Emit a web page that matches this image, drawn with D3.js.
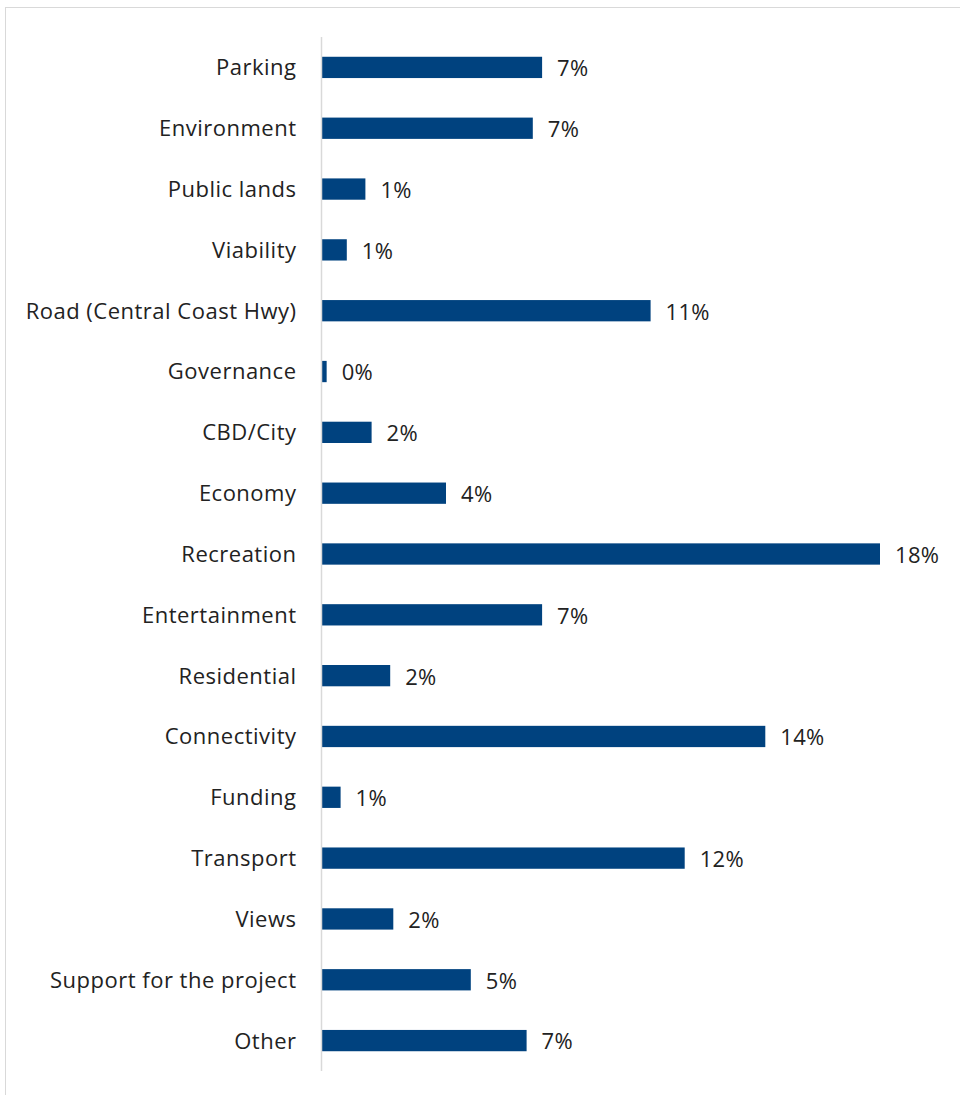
<!DOCTYPE html>
<html><head><meta charset="utf-8">
<script src="https://cdn.jsdelivr.net/npm/d3@7"></script>
<style>
html,body{margin:0;padding:0;background:#fff;}
svg{display:block;}
text{font-family:"Open Sans","Noto Sans",sans-serif;}
</style></head>
<body>
<svg id="chart" width="960" height="1095"></svg>
<script>
const categories = ["Parking","Environment","Public lands","Viability","Road (Central Coast Hwy)","Governance","CBD/City","Economy","Recreation","Entertainment","Residential","Connectivity","Funding","Transport","Views","Support for the project","Other"];
const values = [7.1, 6.8, 1.4, 0.8, 10.6, 0.15, 1.6, 4.0, 18.0, 7.1, 2.2, 14.3, 0.6, 11.7, 2.3, 4.8, 6.6];
const valueLabels = ["7%","7%","1%","1%","11%","0%","2%","4%","18%","7%","2%","14%","1%","12%","2%","5%","7%"];

(function(){
const svg = d3.select("#chart");
const W = 960, H = 1095;
const mLeft = 322, mTop = 37, mBottom = 1071;

svg.append("rect").attr("x",5.5).attr("y",7.5).attr("width",W).attr("height",H)
  .attr("fill","none").attr("stroke","#d9d9d9").attr("stroke-width",1);

const x = d3.scaleLinear().domain([0,18]).range([mLeft, 880]);
const y = d3.scaleBand().domain(categories).range([mTop,mBottom]).paddingInner(0.65).paddingOuter(0.325);

const data = categories.map((c,i)=>({c, v:values[i], l:valueLabels[i]}));

svg.selectAll("rect.bar").data(data).join("rect").attr("class","bar")
  .attr("x", x(0)).attr("y", d=>y(d.c)).attr("width", d=>x(d.v)-x(0)).attr("height", y.bandwidth())
  .attr("fill","#00427f");

svg.selectAll("text.val").data(data).join("text").attr("class","val")
  .attr("x", d=>x(d.v)+15).attr("y", d=>y(d.c)+y.bandwidth()/2+3)
  .attr("dominant-baseline","middle").attr("font-size",22).attr("letter-spacing","0.3px").attr("fill","#222")
  .text(d=>d.l);

const yAxis = d3.axisLeft(y).tickSize(0).tickPadding(25);
const ga = svg.append("g").attr("transform",`translate(${mLeft-0.5},0)`).call(yAxis);
ga.select(".domain").remove();
ga.selectAll("text").attr("font-size",22).attr("letter-spacing","0.5px").attr("fill","#222").attr("font-family","'Open Sans','Noto Sans',sans-serif").attr("dy","0.36em");

svg.append("line").attr("x1",mLeft-0.5).attr("x2",mLeft-0.5).attr("y1",mTop).attr("y2",mBottom)
  .attr("stroke","#d9d9d9").attr("stroke-width",1.5);
})();
</script>
</body></html>
